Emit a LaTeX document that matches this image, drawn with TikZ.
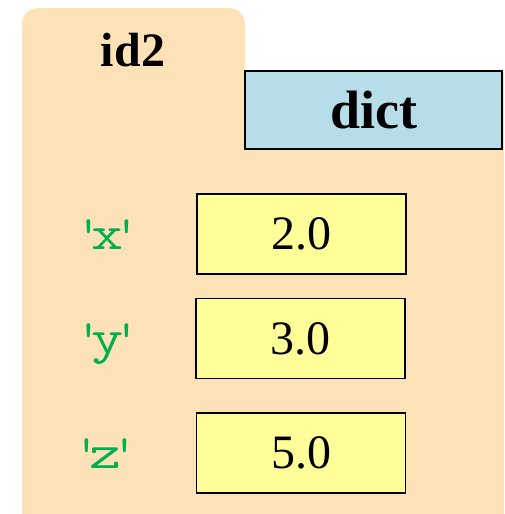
\documentclass[tikz,border=0pt]{standalone}
\usepackage{fontspec}
\setmainfont{Liberation Serif}
\usepackage{graphicx}
\definecolor{peach}{HTML}{FDE2B8}
\definecolor{dictblue}{HTML}{B7DEE8}
\definecolor{valyellow}{HTML}{FFFF99}
\definecolor{keygreen}{HTML}{00B050}
\newcommand{\keylab}[1]{\textquotesingle\kern-0.19em\scalebox{1.3}[1]{#1}\kern-0.19em\textquotesingle}
\begin{document}
\begin{tikzpicture}[x=1pt,y=-1pt,
  typebox/.style={draw=black,line width=1.6pt,fill=dictblue,minimum width=257pt,minimum height=78pt,inner sep=0pt,font=\fontsize{54}{56}\selectfont\bfseries},
  valbox/.style={draw=black,line width=1.6pt,fill=valyellow,minimum width=209pt,minimum height=80pt,inner sep=0pt,font=\fontsize{48}{50}\selectfont},
  keytext/.style={anchor=base,inner sep=0pt,text=keygreen,font=\fontsize{48}{50}\selectfont\ttfamily},
  idtext/.style={anchor=base,inner sep=0pt,font=\fontsize{48}{50}\selectfont\bfseries}]
\useasboundingbox (0,0) rectangle (504,514);
\fill[peach,rounded corners=16pt] (22,8) rectangle (245,120);
\fill[peach] (22,71) rectangle (504,514);
\node[idtext] (id) at (133,66) {id2};
\node[typebox] (dict) at (373.5,110) {dict};
\node[valbox] (vx) at (301.5,234) {2.0};
\node[valbox] (vy) at (300.5,338.5) {3.0};
\node[valbox] (vz) at (301,453) {5.0};
\node[keytext] (kx) at (108,249) {\keylab{x}};
\node[keytext] (ky) at (108,353) {\keylab{y}};
\node[keytext] (kz) at (106,468) {\keylab{z}};
\end{tikzpicture}
\end{document}
